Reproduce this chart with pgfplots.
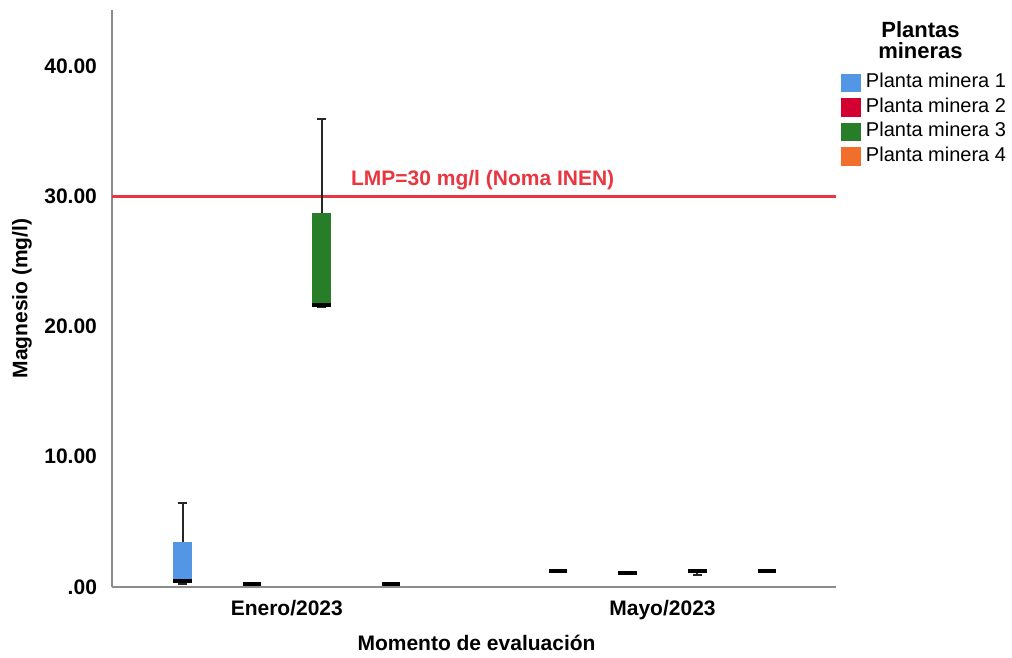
\documentclass[border=0pt]{standalone}
\usepackage{pgfplots}
\pgfplotsset{compat=1.18}
\usepgfplotslibrary{statistics}
\usepackage{fontspec}
\setmainfont{Liberation Sans}

\definecolor{pmA}{RGB}{84,150,230}
\definecolor{pmB}{RGB}{211,0,50}
\definecolor{pmC}{RGB}{40,125,40}
\definecolor{pmD}{RGB}{242,110,45}
\definecolor{lmp}{RGB}{233,55,65}
\definecolor{axisgray}{RGB}{140,140,140}

\newcommand{\lblfont}{\bfseries\fontsize{10.5}{12.5}\selectfont}

\begin{document}
\begin{tikzpicture}
\begin{axis}[
    scale only axis,
    width=362pt, height=288.5pt,
    at={(0,0)}, anchor=south west,
    xmin=-0.4653, xmax=1.4618,
    ymin=0, ymax=44.3,
    clip=false,
    axis x line=bottom, axis y line=left,
    axis line style={draw=axisgray, line width=0.6pt, -},
    major tick length=0pt,
    xtick={0,1}, xticklabels={Enero/2023,Mayo/2023},
    ytick={0,10,20,30,40}, yticklabels={.00,10.00,20.00,30.00,40.00},
    /pgf/number format/assume math mode=true,
    ticklabel style={font=\lblfont},
    xticklabel style={yshift=-3pt},
    yticklabel style={xshift=-4pt},
    xlabel={Momento de evaluación},
    ylabel={Magnesio (mg/l)},
    label style={font=\lblfont},
    xlabel style={at={(axis description cs:0.5035,-0.097)}, anchor=center},
    ylabel style={at={(axis description cs:-0.1243,0.50)}, anchor=center},
    boxplot/draw direction=y,
    boxplot/every box/.style={draw=none},
    boxplot/every whisker/.style={draw=black!85, line width=1pt},
    boxplot/every median/.style={draw=black, line width=2pt},
    legend style={
        at={(axis description cs:1.0069,0.895)}, anchor=north west,
        draw=none, fill=none, inner sep=0pt, outer sep=0pt,
        row sep=0pt,
        font=\fontsize{10}{12}\selectfont,
        nodes={text height=7.5pt, text depth=2.45pt, inner ysep=1.15pt, inner xsep=2.5pt},
    },
    legend cell align=left,
    legend image code/.code={\fill[#1] (0pt,-4.6pt) rectangle (10pt,4.6pt);},
]

% legend entries
\addlegendimage{fill=pmA, draw=none}
\addlegendentry{Planta minera 1}
\addlegendimage{fill=pmB, draw=none}
\addlegendentry{Planta minera 2}
\addlegendimage{fill=pmC, draw=none}
\addlegendentry{Planta minera 3}
\addlegendimage{fill=pmD, draw=none}
\addlegendentry{Planta minera 4}

% limit line
\addplot[lmp, line width=1.6pt, forget plot] coordinates {(-0.4653,30) (1.4618,30)};
\node[lmp, font=\lblfont, anchor=base west, inner sep=0pt] at (axis cs:0.170,30.79) {LMP=30 mg/l (Noma INEN)};

% Enero/2023
\addplot[fill=pmA, forget plot, boxplot prepared={draw position=-0.2776,
    lower whisker=0.25, lower quartile=0.45, median=0.45,
    upper quartile=3.48, upper whisker=6.47,
    box extend=0.049, whisker extend=0.024}] coordinates {};
\addplot[fill=pmB, forget plot, boxplot prepared={draw position=-0.0927,
    lower whisker=0.2, lower quartile=0.2, median=0.2,
    upper quartile=0.2, upper whisker=0.2,
    box extend=0.049, whisker extend=0.0}] coordinates {};
\addplot[fill=pmC, forget plot, boxplot prepared={draw position=0.0927,
    lower whisker=21.5, lower quartile=21.65, median=21.65,
    upper quartile=28.75, upper whisker=35.9,
    box extend=0.049, whisker extend=0.024}] coordinates {};
\addplot[fill=pmD, forget plot, boxplot prepared={draw position=0.2776,
    lower whisker=0.2, lower quartile=0.2, median=0.2,
    upper quartile=0.2, upper whisker=0.2,
    box extend=0.049, whisker extend=0.0}] coordinates {};

% Mayo/2023
\addplot[fill=pmA, forget plot, boxplot prepared={draw position=0.7224,
    lower whisker=1.25, lower quartile=1.25, median=1.25,
    upper quartile=1.25, upper whisker=1.25,
    box extend=0.049, whisker extend=0.0}] coordinates {};
\addplot[fill=pmB, forget plot, boxplot prepared={draw position=0.9073,
    lower whisker=1.1, lower quartile=1.1, median=1.1,
    upper quartile=1.1, upper whisker=1.1,
    box extend=0.049, whisker extend=0.0}] coordinates {};
\addplot[fill=pmC, forget plot, boxplot prepared={draw position=1.0927,
    lower whisker=0.95, lower quartile=1.22, median=1.25,
    upper quartile=1.28, upper whisker=1.28,
    box extend=0.049, whisker extend=0.024}] coordinates {};
\addplot[fill=pmD, forget plot, boxplot prepared={draw position=1.2776,
    lower whisker=1.2, lower quartile=1.2, median=1.2,
    upper quartile=1.2, upper whisker=1.2,
    box extend=0.049, whisker extend=0.0}] coordinates {};

% legend title
\node[font=\bfseries\fontsize{11}{10.2}\selectfont, align=center, anchor=center]
    at (axis description cs:1.1167,0.948) {Plantas\\mineras};
\end{axis}
\pgfresetboundingbox
\path[use as bounding box] (-56pt,-35.5pt) rectangle (450pt,293.5pt);
\end{tikzpicture}
\end{document}
